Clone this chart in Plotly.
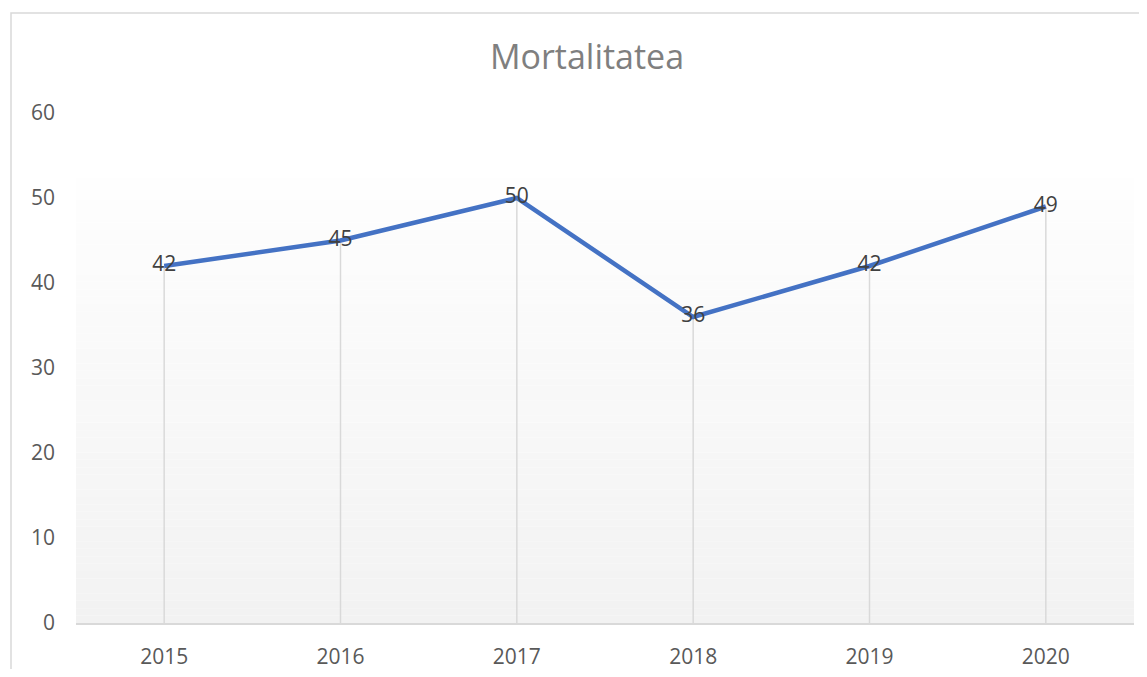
import plotly.graph_objects as go

years = ["2015", "2016", "2017", "2018", "2019", "2020"]
mortality = [42, 45, 50, 36, 42, 49]
y_ticks = [0, 10, 20, 30, 40, 50, 60]
title_text = "Mortalitatea"

# page body has an 8px margin, so the figure is shifted by 8px
OFF = 8
W, H = 1147 - 2 * OFF, 677 - 2 * OFF
ml = 76 - OFF
plot_right = 1134 - OFF
mr = W - plot_right
mt = 113 - OFF
plot_bottom = 623 - OFF
mb = H - plot_bottom
pw, ph = W - ml - mr, H - mt - mb

fig = go.Figure()

# drop lines from each point to the axis
fig.add_trace(go.Scatter(
    x=years, y=mortality, mode="markers",
    marker=dict(size=0.1, color="rgba(0,0,0,0)"),
    error_y=dict(type="data", symmetric=False, array=[0] * len(mortality),
                 arrayminus=mortality, color="#d9d9d9", thickness=1.5, width=0),
    hoverinfo="skip", showlegend=False,
))

fig.add_trace(go.Scatter(
    x=years, y=mortality, mode="lines+text",
    line=dict(color="#4472C4", width=4.5),
    text=[str(v) for v in mortality], textposition="middle center",
    textfont=dict(family="Open Sans", size=21, color="#404040"),
    showlegend=False,
))

shapes = []
# gradient background
top_frac = (plot_bottom - (178 - OFF)) / ph
n = 60
c_top, c_bot = 254, 242
for i in range(n):
    y0 = top_frac * i / n
    y1 = top_frac * (i + 1) / n
    t = (i + 0.5) / n
    c = round(c_bot + (c_top - c_bot) * t)
    shapes.append(dict(type="rect", xref="paper", yref="paper", x0=0, x1=1,
                       y0=y0, y1=y1, fillcolor=f"rgb({c},{c},{c})",
                       line=dict(width=0), layer="below"))
# chart border (left and top edges visible)
bx0 = (11 - OFF - ml) / pw
bx1 = (W + 40 - ml) / pw
by0 = -(mb + 40) / ph
by1 = 1 + (mt - (13 - OFF)) / ph
shapes.append(dict(type="path", xref="paper", yref="paper",
                   path=f"M {bx0},{by0} L {bx0},{by1} L {bx1},{by1}",
                   line=dict(color="#d9d9d9", width=1.5),
                   fillcolor="rgba(0,0,0,0)", layer="below"))

fig.update_layout(
    width=W, height=H,
    margin=dict(l=ml, r=mr, t=mt, b=mb, autoexpand=False),
    paper_bgcolor="white", plot_bgcolor="white",
    title=dict(text=title_text, x=(587 - OFF - ml) / pw, xref="paper", xanchor="center",
               y=1 - (57 - OFF) / H, yanchor="middle",
               font=dict(family="Open Sans", size=34, color="#7f7f7f")),
    xaxis=dict(type="category", range=[-0.5, 5.5], showgrid=False, automargin=False,
               showline=True, linecolor="#d9d9d9", linewidth=1.5,
               ticks="", ticklabelstandoff=14,
               tickfont=dict(family="Open Sans", size=21, color="#595959")),
    yaxis=dict(range=[0, 60], tickvals=y_ticks, showgrid=False, zeroline=False,
               automargin=False, showline=False, ticks="", ticklabelstandoff=20,
               tickfont=dict(family="Open Sans", size=21, color="#595959")),
    shapes=shapes,
    showlegend=False,
)

fig.write_html("out.html")
